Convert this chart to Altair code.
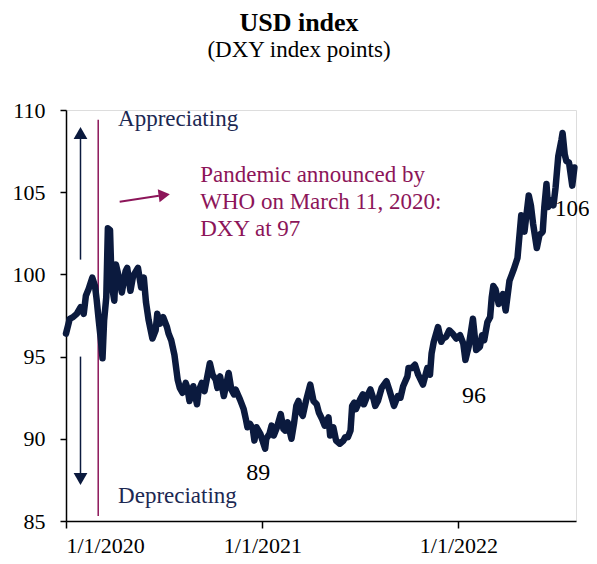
import altair as alt
import pandas as pd

# ---- DXY series ----
dates = [
    "2020-01-01", "2020-01-08", "2020-01-14", "2020-01-21", "2020-01-28", "2020-02-03", "2020-02-07",
    "2020-02-12", "2020-02-19", "2020-02-24", "2020-02-27", "2020-03-02", "2020-03-06", "2020-03-09",
    "2020-03-12", "2020-03-16", "2020-03-19", "2020-03-23", "2020-03-26", "2020-03-31", "2020-04-03",
    "2020-04-08", "2020-04-14", "2020-04-21", "2020-04-24", "2020-04-30", "2020-05-05", "2020-05-14",
    "2020-05-20", "2020-05-25", "2020-05-29", "2020-06-03", "2020-06-10", "2020-06-16", "2020-06-19",
    "2020-06-24", "2020-06-30", "2020-07-07", "2020-07-10", "2020-07-15", "2020-07-21", "2020-07-27",
    "2020-07-31", "2020-08-05", "2020-08-11", "2020-08-14", "2020-08-18", "2020-08-25", "2020-09-01",
    "2020-09-04", "2020-09-10", "2020-09-15", "2020-09-25", "2020-09-30", "2020-10-06", "2020-10-09",
    "2020-10-14", "2020-10-21", "2020-10-30", "2020-11-04", "2020-11-09", "2020-11-12", "2020-11-20",
    "2020-11-27", "2020-12-01", "2020-12-04", "2020-12-09", "2020-12-14", "2020-12-17", "2020-12-21",
    "2020-12-28",
    "2021-01-06", "2021-01-08", "2021-01-14", "2021-01-18", "2021-01-22", "2021-01-28", "2021-02-04",
    "2021-02-09", "2021-02-12", "2021-02-17", "2021-02-24", "2021-03-01", "2021-03-05", "2021-03-09",
    "2021-03-12", "2021-03-17", "2021-03-23", "2021-03-31", "2021-04-06", "2021-04-12", "2021-04-16",
    "2021-04-22", "2021-04-27", "2021-05-04", "2021-05-07", "2021-05-13", "2021-05-18", "2021-05-25",
    "2021-06-01", "2021-06-04", "2021-06-09", "2021-06-14", "2021-06-17", "2021-06-21", "2021-06-24",
    "2021-07-02", "2021-07-07", "2021-07-09", "2021-07-15", "2021-07-21", "2021-07-27", "2021-07-30",
    "2021-08-04", "2021-08-11", "2021-08-20", "2021-08-25", "2021-09-03", "2021-09-10", "2021-09-15",
    "2021-09-20", "2021-09-28", "2021-09-30", "2021-10-06", "2021-10-12", "2021-10-18", "2021-10-27",
    "2021-11-04", "2021-11-09", "2021-11-12", "2021-11-16", "2021-11-24", "2021-11-30", "2021-12-03",
    "2021-12-09", "2021-12-15", "2021-12-21", "2021-12-28",
    "2022-01-04", "2022-01-10", "2022-01-14", "2022-01-20", "2022-01-28", "2022-02-03", "2022-02-10",
    "2022-02-14", "2022-02-18", "2022-02-24", "2022-03-01", "2022-03-04", "2022-03-07", "2022-03-11",
    "2022-03-17", "2022-03-22", "2022-03-25", "2022-03-30", "2022-04-06", "2022-04-14", "2022-04-21",
    "2022-04-28", "2022-05-04", "2022-05-12", "2022-05-16", "2022-05-20", "2022-05-27", "2022-06-01",
    "2022-06-07", "2022-06-10", "2022-06-14", "2022-06-17", "2022-06-23", "2022-06-27", "2022-07-01",
    "2022-07-06", "2022-07-12", "2022-07-14", "2022-07-18", "2022-07-21", "2022-07-26", "2022-08-01",
    "2022-08-05",
]
dxy = [
    96.4, 97.3, 97.4, 97.6, 98.0, 97.6, 98.7,
    99.1, 99.8, 99.3, 98.5, 97.2, 96.0, 94.9,
    97.2, 98.6, 102.8, 102.7, 99.4, 98.4, 100.6,
    99.9, 98.9, 100.2, 100.4, 99.0, 99.9, 100.4,
    99.2, 99.8, 98.3, 97.2, 96.1, 96.6, 97.6,
    97.0, 97.4, 96.8, 96.4, 96.0, 95.1, 93.6,
    93.1, 92.8, 93.4, 93.1, 92.3, 93.2, 92.1,
    92.9, 93.4, 92.9, 94.6, 93.9, 93.6, 93.1,
    93.8, 92.6, 94.0, 93.0, 92.7, 93.0, 92.4,
    91.8, 91.2, 90.7, 90.9, 90.6, 89.9, 90.7,
    90.3,
    89.4, 90.0, 90.3, 90.8, 90.2, 90.7, 91.5,
    90.6, 90.5, 91.0, 90.0, 91.0, 92.0, 92.3,
    91.7, 91.4, 92.3, 93.3, 92.3, 92.1, 91.6,
    91.2, 90.8, 91.3, 90.2, 90.7, 89.9, 89.7,
    89.9, 90.1, 90.1, 90.5, 92.0, 92.2, 91.8,
    92.4, 92.7, 92.1, 92.6, 93.0, 92.4, 92.0,
    92.3, 93.1, 93.5, 93.0, 92.0, 92.6, 92.5,
    93.2, 93.8, 94.3, 94.3, 94.5, 93.9, 93.3,
    94.3, 93.9, 95.2, 95.9, 96.8, 95.9, 96.1,
    96.2, 96.6, 96.4, 96.1,
    96.3, 95.8, 94.8, 95.6, 97.3, 95.4, 95.6,
    96.3, 96.0, 97.1, 97.4, 98.6, 99.3, 99.1,
    98.2, 98.5, 98.8, 97.8, 99.6, 100.3, 101.0,
    103.6, 102.6, 104.8, 104.2, 103.1, 101.6, 102.4,
    102.6, 104.1, 105.5, 104.1, 104.5, 104.2, 105.3,
    107.2, 108.2, 108.6, 107.3, 106.9, 106.8, 105.4,
    106.5,
]

# ---- axis ticks ----
y_ticks = [85, 90, 95, 100, 105, 110]
x_tick_years = [2020, 2021, 2022]

# ---- annotations ----
pandemic_date = ["2020-03-01"]
pandemic_y = [85.3]
pandemic_y2 = [109.4]

arrow_date = ["2020-01-28", "2020-01-28"]
arrow_y = [100.9, 95.0]
arrow_y2 = [108.4, 87.7]
head_y = [108.6, 87.55]
head_shape = ["triangle-up", "triangle-down"]

pink_x = ["2020-04-10"]
pink_x2 = ["2020-06-22"]
pink_y = [104.42]
pink_y2 = [104.78]
pink_head_x = ["2020-07-02"]
pink_head_y = [104.83]

note_dates = ["2020-04-07", "2020-04-07"]
note_y = [109.45, 86.5]
note_text = ["Appreciating", "Depreciating"]

pand_dates = ["2020-09-07", "2020-09-07", "2020-09-07"]
pand_y = [106.05, 104.4, 102.75]
pand_text = ["Pandemic announced by", "WHO on March 11, 2020:", "DXY at 97"]

lab_dates = ["2020-12-24", "2022-01-30", "2022-06-30"]
lab_y = [87.9, 92.6, 104.0]
lab_text = ["89", "96", "106"]

NAVY = "#0b1a3e"
NAVY_TXT = "#1c2852"
MAROON = "#8c1559"
FONT = "Liberation Serif"

df = pd.DataFrame({"date": dates, "dxy": dxy})

xscale = alt.Scale(domain=[alt.DateTime(year=2020, month=1, date=1),
                           alt.DateTime(year=2022, month=8, date=8)])
yscale = alt.Scale(domain=[85, 110], nice=False, zero=False)

x_axis = alt.Axis(values=[alt.DateTime(year=y, month=1, date=1) for y in x_tick_years],
                  format="%-m/%-d/%Y", title=None, grid=False, tickSize=7,
                  labelPadding=7, labelFontSize=22, labelFont=FONT, labelColor="black",
                  domainColor="black", tickColor="black", domainWidth=1.5, tickWidth=1.5)
y_axis = alt.Axis(values=y_ticks, title=None, grid=False, tickSize=6, labelPadding=15,
                  labelFontSize=22, labelFont=FONT, labelColor="black",
                  domainColor="black", tickColor="black", domainWidth=1.5, tickWidth=1.5)

line = alt.Chart(df).mark_line(color=NAVY, strokeWidth=6.5, strokeJoin="round", strokeCap="round").encode(
    x=alt.X("date:T", scale=xscale, axis=x_axis),
    y=alt.Y("dxy:Q", scale=yscale, axis=y_axis),
)

vrule = alt.Chart(pd.DataFrame({"d": pandemic_date, "y": pandemic_y, "y2": pandemic_y2})).mark_rule(
    color=MAROON, strokeWidth=1.5).encode(x="d:T", y="y:Q", y2="y2:Q")

arrows = alt.Chart(pd.DataFrame({"d": arrow_date, "y": arrow_y, "y2": arrow_y2})).mark_rule(
    color=NAVY, strokeWidth=1.5).encode(x="d:T", y="y:Q", y2="y2:Q")

heads = alt.Chart(pd.DataFrame({"d": arrow_date, "y": head_y, "s": head_shape})).mark_point(
    filled=True, color=NAVY, opacity=1, size=190, strokeWidth=0).encode(
    x="d:T", y="y:Q", shape=alt.Shape("s:N", scale=None, legend=None))

pink = alt.Chart(pd.DataFrame({"d": pink_x, "d2": pink_x2, "y": pink_y, "y2": pink_y2})).mark_rule(
    color=MAROON, strokeWidth=2).encode(x="d:T", x2="d2:T", y="y:Q", y2="y2:Q")

pink_head = alt.Chart(pd.DataFrame({"d": pink_head_x, "y": pink_head_y})).mark_point(
    filled=True, color=MAROON, opacity=1, size=170, strokeWidth=0, shape="triangle-right",
    angle=352).encode(x="d:T", y="y:Q")

notes = alt.Chart(pd.DataFrame({"d": note_dates, "y": note_y, "t": note_text})).mark_text(
    align="left", baseline="middle", font=FONT, fontSize=23, color=NAVY_TXT).encode(
    x="d:T", y="y:Q", text="t:N")

pand = alt.Chart(pd.DataFrame({"d": pand_dates, "y": pand_y, "t": pand_text})).mark_text(
    align="left", baseline="middle", font=FONT, fontSize=23, color=MAROON).encode(
    x="d:T", y="y:Q", text="t:N")

labs_c = alt.Chart(pd.DataFrame({"d": lab_dates[:2], "y": lab_y[:2], "t": lab_text[:2]})).mark_text(
    align="center", baseline="middle", font=FONT, fontSize=24, color="black").encode(
    x="d:T", y="y:Q", text="t:N")
labs_l = alt.Chart(pd.DataFrame({"d": lab_dates[2:], "y": lab_y[2:], "t": lab_text[2:]})).mark_text(
    align="left", baseline="middle", font=FONT, fontSize=23, color="black").encode(
    x="d:T", y="y:Q", text="t:N")

chart = alt.layer(vrule, arrows, heads, pink, pink_head, line, notes, pand, labs_c, labs_l).properties(
    width=510, height=411,
    title=alt.TitleParams(text="USD index", subtitle="(DXY index points)", font=FONT, fontSize=26,
                          fontWeight="bold", color="black", subtitleFont=FONT, subtitleFontSize=23,
                          subtitleColor="black", anchor="middle", dx=-22, offset=37,
                          subtitlePadding=3),
    autosize=alt.AutoSizeParams(type="none"),
    padding={"left": 58, "top": 102, "right": 13, "bottom": 35},
).configure_view(stroke=None).configure(background="white")

chart.save("out.html", embed_options={"renderer": "svg", "actions": False})
